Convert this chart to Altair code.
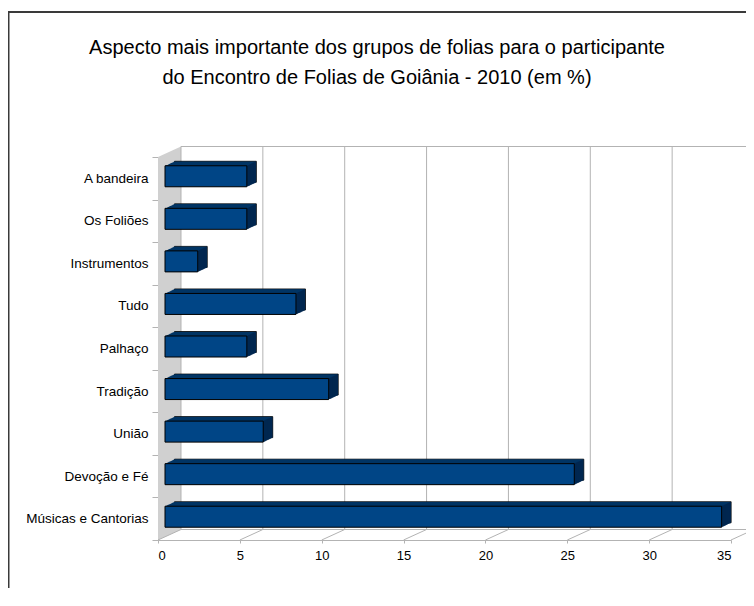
import altair as alt
import pandas as pd

# ---------------- data ----------------
categories = ["A bandeira", "Os Foliões", "Instrumentos", "Tudo", "Palhaço",
              "Tradição", "União", "Devoção e Fé", "Músicas e Cantorias"]
values = [5, 5, 2, 8, 5, 10, 6, 25, 34]
x_ticks = [0, 5, 10, 15, 20, 25, 30, 35]
title_lines = ["Aspecto mais importante dos grupos de folias para o participante",
               "do Encontro de Folias de Goiânia - 2010 (em %)"]

# ---------------- style / layout ----------------
W, H = 573, 383
PAD = {"left": 150, "top": 149, "right": 15, "bottom": 48}
DX, DY = 23, -10.5          # depth of the 3D wall
BX, BY = 7, -2              # bar front-face offset
BDX, BDY = 9.5, -4.5        # bar depth
BAR_H = 21
N = 10
FRONT = "#004586"
TOP = "#003465"
SIDE = "#00234a"
GRID = "#b3b3b3"
WALL = "#d0d0d0"
FONT = "Liberation Sans"

df = pd.DataFrame({"cat": categories, "v": values})
ticks_df = pd.DataFrame({"g": x_ticks})
one = pd.DataFrame({"k": [0]})
wall_df = pd.DataFrame({"px": [0, DX], "top": [0, DY], "bot": [H, H + DY]})
title_df = pd.DataFrame({"t": ["\n".join(title_lines)]})

xscale = alt.Scale(domain=[x_ticks[0], x_ticks[-1]], nice=False, zero=True)
yscale = alt.Scale(type="band", domain=categories, paddingInner=0, paddingOuter=0)

xaxis = alt.Axis(values=x_ticks, title=None, grid=False, domainColor=GRID,
                 tickColor=GRID, tickSize=3, labelPadding=6, labelFontSize=13,
                 labelColor="black", labelFont=FONT, format="d")
yaxis = alt.Axis(title=None, grid=False, domainColor=GRID, tickColor=GRID,
                 tickSize=6, tickBand="extent", labelPadding=4, labelFontSize=13.5,
                 labelColor="black", labelFont=FONT)

X = alt.X("v:Q", scale=xscale, axis=xaxis)
Y = alt.Y("cat:N", scale=yscale, axis=yaxis, sort=categories)

layers = []

# outer frame
layers.append(alt.Chart(one).mark_rect(filled=False, stroke="#3a3a3a", strokeWidth=2).encode(
    x=alt.value(-149.5), x2=alt.value(800), y=alt.value(-145), y2=alt.value(700)))

# grey side wall
layers.append(alt.Chart(wall_df).mark_area(color=WALL, orient="vertical").encode(
    x=alt.X("px:Q", scale=None), y=alt.Y("top:Q", scale=None), y2="bot:Q"))

# back wall gridlines
layers.append(alt.Chart(ticks_df).mark_rule(color=GRID, xOffset=DX).encode(
    x=alt.X("g:Q", scale=xscale, axis=xaxis), y=alt.value(DY), y2=alt.value(H + DY)))
# back wall top and floor back lines
for yy in (DY, H + DY):
    layers.append(alt.Chart(one).mark_rule(color=GRID, xOffset=DX, x2Offset=DX).encode(
        x=alt.X(datum=x_ticks[0], scale=xscale, axis=xaxis),
        x2=alt.X2(datum=x_ticks[-1]), y=alt.value(yy)))
# floor diagonal ticks
layers.append(alt.Chart(ticks_df).mark_rule(color=GRID, x2Offset=DX).encode(
    x=alt.X("g:Q", scale=xscale, axis=xaxis), x2="g:Q", y=alt.value(H), y2=alt.value(H + DY)))

# bars: extruded back faces
for i in range(N, 0, -1):
    t = i / N
    kw = dict(color=TOP, size=BAR_H, xOffset=BX + BDX * t, x2Offset=BX + BDX * t,
              yOffset=BY + BDY * t)
    if i == N:
        kw.update(stroke="black", strokeWidth=0.8)
    layers.append(alt.Chart(df).mark_bar(**kw).encode(x=X, y=Y))
# side faces
for i in range(1, N):
    t = i / N
    layers.append(alt.Chart(df).mark_tick(color=SIDE, size=BAR_H, thickness=1.3,
                                          xOffset=BX + BDX * t, yOffset=BY + BDY * t).encode(x=X, y=Y))
# front faces
layers.append(alt.Chart(df).mark_bar(color=FRONT, stroke="black", strokeWidth=1, size=BAR_H,
                                     xOffset=BX, x2Offset=BX, yOffset=BY).encode(x=X, y=Y))

# title
layers.append(alt.Chart(title_df).mark_text(lineBreak="\n", fontSize=20, font=FONT,
                                            align="center", baseline="alphabetic",
                                            lineHeight=30, color="black").encode(
    text="t:N", x=alt.value(219), y=alt.value(-103)))

chart = alt.layer(*layers).properties(
    width=W, height=H,
    autosize=alt.AutoSizeParams(type="none"),
    padding=PAD,
).configure_view(stroke="transparent")

chart.save("out.html", embed_options={"renderer": "svg", "actions": False})
